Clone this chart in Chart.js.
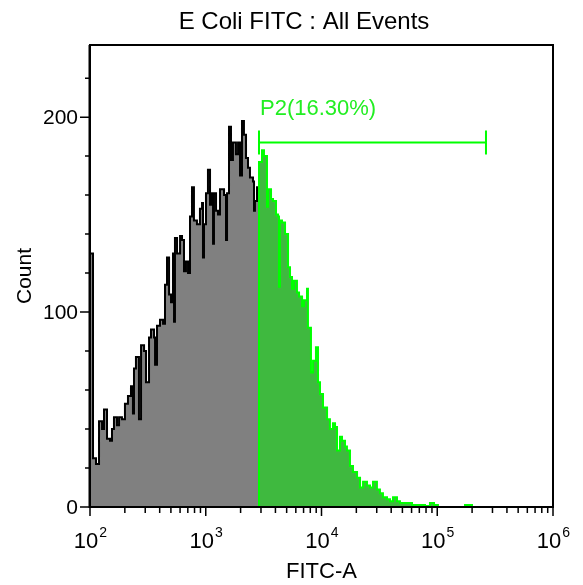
<!DOCTYPE html>
<html>
<head>
<meta charset="utf-8">
<script src="https://cdn.jsdelivr.net/npm/chart.js@4"></script>
<style>
  html, body { margin: 0; padding: 0; background: #fff; }
  #wrap { width: 583px; height: 585px; }
</style>
</head>
<body>
<div id="wrap"><canvas id="histo" width="583" height="585"></canvas></div>
<script>
// histogram bins, x = log10(FITC-A) at start of each bin
const grayBins = [2.000, 2.026, 2.052, 2.078, 2.104, 2.121, 2.147, 2.173, 2.190, 2.207,
  2.233, 2.251, 2.276, 2.302, 2.328, 2.354, 2.371, 2.380, 2.397, 2.423,
  2.441, 2.467, 2.484, 2.510, 2.527, 2.553, 2.562, 2.579, 2.605, 2.631,
  2.648, 2.665, 2.683, 2.700, 2.717, 2.726, 2.734, 2.752, 2.778, 2.795,
  2.812, 2.829, 2.847, 2.864, 2.881, 2.898, 2.924, 2.950, 2.968, 2.976,
  2.985, 3.002, 3.019, 3.037, 3.054, 3.063, 3.071, 3.089, 3.106, 3.123,
  3.140, 3.158, 3.175, 3.184, 3.201, 3.218, 3.235, 3.261, 3.279, 3.296,
  3.313, 3.330, 3.348, 3.365, 3.382, 3.408, 3.417, 3.425, 3.443, 3.460];
const grayCounts = [130, 25, 22, 44, 40, 50, 35, 34, 40, 46,
  42, 46, 45, 53, 57, 62, 48, 71, 77, 45,
  83, 80, 64, 87, 91, 87, 73, 93, 96, 94,
  114, 128, 109, 105, 130, 95, 138, 130, 139, 137,
  121, 126, 120, 149, 164, 147, 145, 153, 156, 128,
  145, 161, 173, 155, 161, 135, 161, 152, 150, 163,
  163, 160, 137, 161, 195, 178, 187, 181, 187, 170,
  198, 191, 179, 174, 169, 167, 152, 157, 164, 164];

const greenBins = [3.460, 3.460, 3.486, 3.503, 3.529, 3.538, 3.564, 3.581, 3.607, 3.624,
  3.633, 3.641, 3.659, 3.685, 3.711, 3.728, 3.745, 3.762, 3.788, 3.806,
  3.832, 3.849, 3.875, 3.883, 3.909, 3.927, 3.952, 3.970, 3.987, 4.013,
  4.048, 4.073, 4.099, 4.117, 4.134, 4.160, 4.177, 4.203, 4.220, 4.246,
  4.272, 4.307, 4.333, 4.359, 4.393, 4.419, 4.445, 4.479, 4.505, 4.531,
  4.566, 4.592, 4.618, 4.652, 4.678, 4.721, 4.782, 4.834, 4.894, 4.937,
  4.972, 5.006, 5.240, 5.300];
const greenCounts = [0, 177, 183, 180, 154, 163, 158, 157, 150, 149,
  113, 147, 146, 140, 123, 118, 112, 116, 110, 108,
  103, 106, 112, 92, 69, 75, 82, 64, 58, 51,
  45, 40, 43, 41, 29, 36, 34, 31, 29, 21,
  18, 15, 10, 13, 11, 10, 13, 9, 7, 5,
  4, 3, 5, 3, 2, 2, 1, 1, 0.5, 2,
  1, 0, 1, 0];

const decades = [2, 3, 4, 5, 6];
const countTicks = [0, 20, 40, 60, 80, 100, 120, 140, 160, 180, 200, 220];
const countLabels = [0, 100, 200];

const gateRange = [3.460, 5.421];
const gateLevel = 187;
const gateLabel = 'P2(16.30%)';
const chartTitle = 'E Coli FITC : All Events';

const FONT = '"Liberation Sans", Arial, sans-serif';
const sup = { '2': '2', '3': '3', '4': '4', '5': '5', '6': '6' };

// axes box, ticks, labels, gate
const decorations = {
  id: 'decorations',
  afterDatasetsDraw(chart) {
    const { ctx, chartArea: a, scales: { x, y } } = chart;
    ctx.save();

    // gate marker
    const gy = y.getPixelForValue(gateLevel);
    const g0 = x.getPixelForValue(gateRange[0]);
    const g1 = x.getPixelForValue(gateRange[1]);
    ctx.strokeStyle = '#00ff00';
    ctx.lineWidth = 2;
    ctx.beginPath();
    ctx.moveTo(g0, gy); ctx.lineTo(g1, gy);
    ctx.moveTo(g0, gy - 12); ctx.lineTo(g0, gy + 12);
    ctx.moveTo(g1, gy - 12); ctx.lineTo(g1, gy + 12);
    ctx.stroke();
    ctx.fillStyle = '#22ee22';
    ctx.font = '22px ' + FONT;
    ctx.textAlign = 'left';
    ctx.textBaseline = 'alphabetic';
    ctx.fillText(gateLabel, g0 + 1, gy - 27);

    // frame
    ctx.strokeStyle = '#000';
    ctx.lineWidth = 2;
    ctx.strokeRect(a.left, a.top, a.right - a.left, a.bottom - a.top);
    ctx.beginPath();
    ctx.moveTo(a.left - 0.5, a.top); ctx.lineTo(a.left - 0.5, a.bottom + 1);
    ctx.stroke();

    // x ticks (log decades + minors)
    ctx.lineWidth = 1.5;
    ctx.beginPath();
    decades.forEach((d, i) => {
      const px = x.getPixelForValue(d);
      ctx.moveTo(px, a.bottom); ctx.lineTo(px, a.bottom + 9);
      if (i < decades.length - 1) {
        for (let k = 2; k <= 9; k++) {
          const mx = x.getPixelForValue(d + Math.log10(k));
          ctx.moveTo(mx, a.bottom); ctx.lineTo(mx, a.bottom + 6);
        }
      }
    });
    // y ticks
    countTicks.forEach(v => {
      const py = y.getPixelForValue(v);
      const len = countLabels.includes(v) ? 10 : 5;
      ctx.moveTo(a.left, py); ctx.lineTo(a.left - len, py);
    });
    ctx.stroke();

    // x tick labels: 10 with superscript exponent
    ctx.fillStyle = '#000';
    decades.forEach(d => {
      const px = x.getPixelForValue(d);
      ctx.font = '22px ' + FONT;
      const w1 = ctx.measureText('10').width;
      ctx.font = '14px ' + FONT;
      const w2 = ctx.measureText(sup[String(d)]).width;
      const start = px - (w1 + w2) / 2;
      ctx.textAlign = 'left';
      ctx.textBaseline = 'alphabetic';
      ctx.font = '22px ' + FONT;
      ctx.fillText('10', start, a.bottom + 41);
      ctx.font = '14px ' + FONT;
      ctx.fillText(sup[String(d)], start + w1 + 1, a.bottom + 30);
    });

    // y tick labels
    ctx.font = '21px ' + FONT;
    ctx.textAlign = 'right';
    ctx.textBaseline = 'middle';
    countLabels.forEach(v => {
      ctx.fillText(String(v), a.left - 12, y.getPixelForValue(v) + 1);
    });

    // title
    ctx.font = '24px ' + FONT;
    ctx.textAlign = 'center';
    ctx.textBaseline = 'middle';
    ctx.fillText(chartTitle, 304, 22);

    ctx.restore();
  }
};

new Chart(document.getElementById('histo'), {
  type: 'line',
  data: {
    datasets: [
      {
        label: 'All Events',
        data: grayBins.map((b, i) => ({ x: b, y: grayCounts[i] })),
        stepped: true,
        fill: 'origin',
        backgroundColor: '#808080',
        borderColor: '#000000',
        borderWidth: 2,
        pointRadius: 0,
        order: 2
      },
      {
        label: 'P2',
        data: greenBins.map((b, i) => ({ x: b, y: greenCounts[i] })),
        stepped: true,
        fill: 'origin',
        backgroundColor: '#3fb93f',
        borderColor: '#00ff00',
        borderWidth: 2,
        pointRadius: 0,
        order: 1
      }
    ]
  },
  options: {
    responsive: false,
    animation: false,
    events: [],
    layout: { padding: { top: 45, right: 30, left: 0, bottom: 0 } },
    plugins: {
      legend: { display: false },
      title: { display: false },
      tooltip: { enabled: false }
    },
    scales: {
      x: {
        type: 'linear',
        min: 2,
        max: 6,
        grid: { display: false },
        border: { display: false },
        ticks: { display: false },
        title: {
          display: true,
          text: 'FITC-A',
          color: '#000',
          font: { family: FONT, size: 22 },
          padding: { top: 0, bottom: 0 }
        },
        afterFit(scale) { scale.height = 78; }
      },
      y: {
        min: 0,
        max: 237,
        grid: { display: false },
        border: { display: false },
        ticks: { display: false },
        title: {
          display: true,
          text: 'Count',
          color: '#000',
          font: { family: FONT, size: 21 },
          padding: { top: 13, bottom: 0 }
        },
        afterFit(scale) { scale.width = 90; }
      }
    }
  },
  plugins: [decorations]
});
</script>
</body>
</html>
